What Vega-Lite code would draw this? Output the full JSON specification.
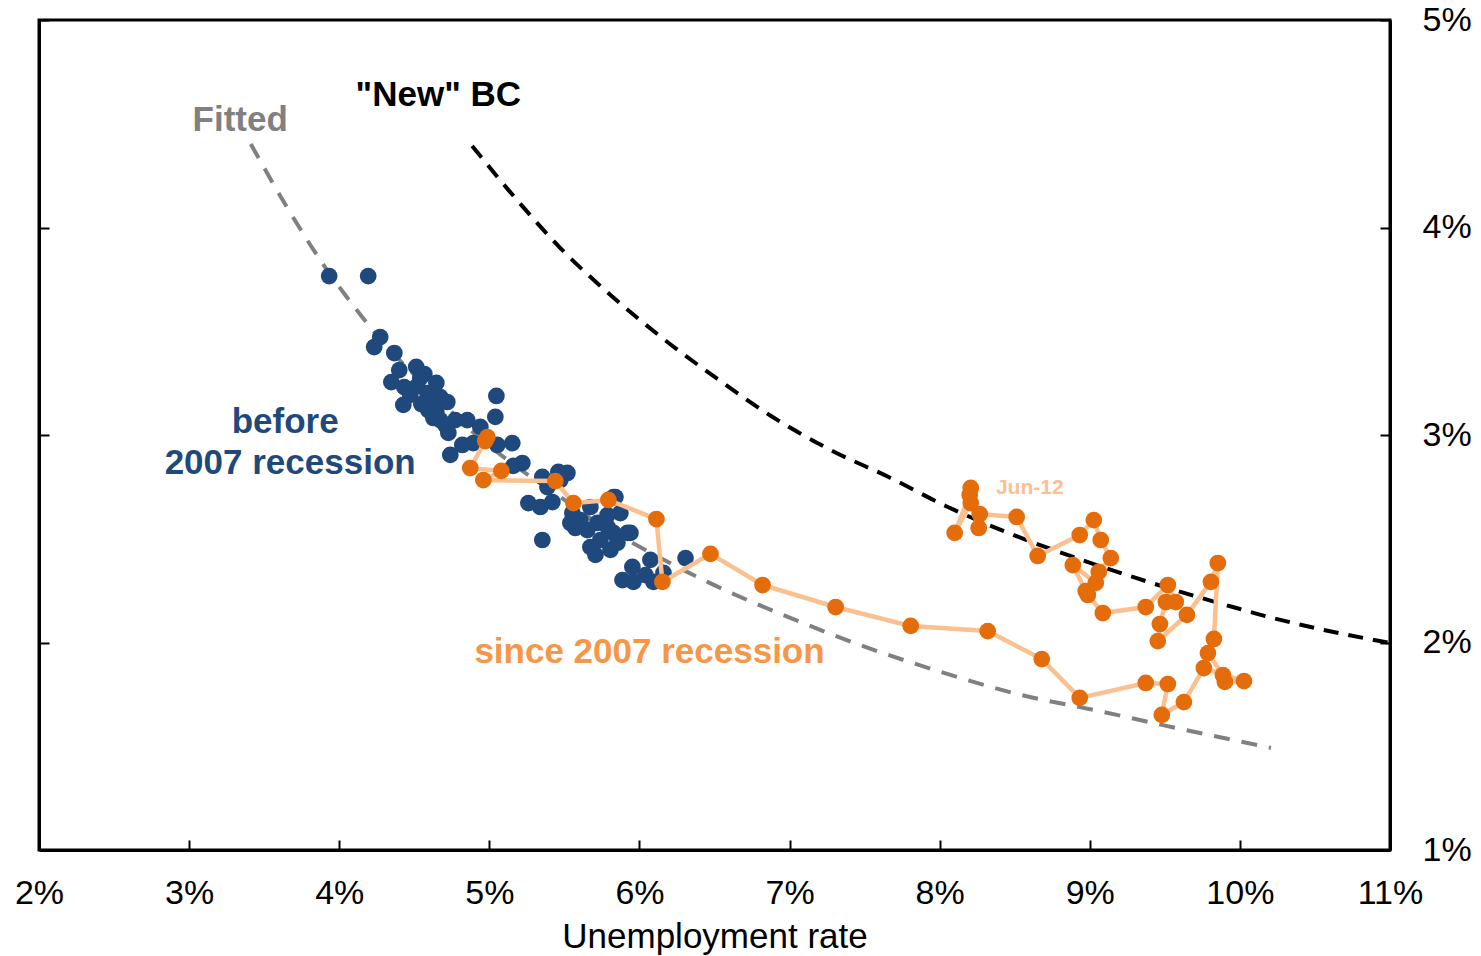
{
  "$schema": "https://vega.github.io/schema/vega-lite/v6.json",
  "width": 1351,
  "height": 830,
  "autosize": {"type": "none"},
  "padding": {"left": 39, "top": 20, "right": 91, "bottom": 106},
  "background": "white",
  "config": {
    "view": {"stroke": "black", "strokeWidth": 3},
    "font": "Liberation Sans",
    "axis": {
      "grid": false,
      "domainColor": "black",
      "domainWidth": 3,
      "tickColor": "black",
      "tickWidth": 2,
      "tickSize": -10,
      "labelFont": "Liberation Sans",
      "labelFontSize": 34,
      "labelColor": "black",
      "titleFont": "Liberation Sans",
      "titleFontSize": 35,
      "titleFontWeight": "normal",
      "titleColor": "black"
    }
  },
  "datasets": {
    "fitted": [
      {"x": 3.411, "y": 4.402}, {"x": 3.65, "y": 4.1}, {"x": 3.887, "y": 3.829}, {"x": 4.04, "y": 3.675},
      {"x": 4.307, "y": 3.434}, {"x": 4.6, "y": 3.22}, {"x": 4.85, "y": 3.04}, {"x": 5.12, "y": 2.88},
      {"x": 5.473, "y": 2.701}, {"x": 5.66, "y": 2.605}, {"x": 6.04, "y": 2.446}, {"x": 6.453, "y": 2.292},
      {"x": 7.0, "y": 2.12}, {"x": 7.5, "y": 1.98}, {"x": 8.0, "y": 1.86}, {"x": 8.5, "y": 1.755},
      {"x": 9.093, "y": 1.665}, {"x": 9.487, "y": 1.602}, {"x": 10.207, "y": 1.492}
    ],
    "newbc": [
      {"x": 4.885, "y": 4.393}, {"x": 5.173, "y": 4.142}, {"x": 5.473, "y": 3.901}, {"x": 5.807, "y": 3.675},
      {"x": 6.153, "y": 3.467}, {"x": 6.52, "y": 3.27}, {"x": 6.887, "y": 3.087}, {"x": 7.273, "y": 2.928},
      {"x": 7.673, "y": 2.793}, {"x": 8.04, "y": 2.658}, {"x": 8.44, "y": 2.533}, {"x": 8.87, "y": 2.417},
      {"x": 9.307, "y": 2.311}, {"x": 9.953, "y": 2.171}, {"x": 10.12, "y": 2.137}, {"x": 10.5, "y": 2.07},
      {"x": 11.0, "y": 1.998}
    ],
    "before": [
      {"x": 3.933, "y": 3.766}, {"x": 4.193, "y": 3.766}, {"x": 4.273, "y": 3.472}, {"x": 4.233, "y": 3.424},
      {"x": 4.367, "y": 3.395}, {"x": 4.4, "y": 3.313}, {"x": 4.513, "y": 3.328}, {"x": 4.567, "y": 3.294},
      {"x": 4.347, "y": 3.255}, {"x": 4.433, "y": 3.231}, {"x": 4.52, "y": 3.236}, {"x": 4.647, "y": 3.251},
      {"x": 4.587, "y": 3.202}, {"x": 4.427, "y": 3.145}, {"x": 4.673, "y": 3.183}, {"x": 4.72, "y": 3.159},
      {"x": 4.593, "y": 3.12}, {"x": 4.627, "y": 3.082}, {"x": 4.727, "y": 3.01}, {"x": 4.74, "y": 2.904},
      {"x": 4.853, "y": 3.072}, {"x": 4.94, "y": 3.039}, {"x": 5.047, "y": 3.188}, {"x": 5.04, "y": 3.087},
      {"x": 4.893, "y": 2.961}, {"x": 5.053, "y": 2.952}, {"x": 5.153, "y": 2.961}, {"x": 5.22, "y": 2.865},
      {"x": 5.353, "y": 2.798}, {"x": 5.26, "y": 2.672}, {"x": 5.46, "y": 2.822}, {"x": 5.52, "y": 2.817},
      {"x": 5.34, "y": 2.653}, {"x": 5.42, "y": 2.677}, {"x": 5.387, "y": 2.749}, {"x": 5.553, "y": 2.624},
      {"x": 5.54, "y": 2.576}, {"x": 5.673, "y": 2.653}, {"x": 5.84, "y": 2.701}, {"x": 5.873, "y": 2.624},
      {"x": 5.573, "y": 2.552}, {"x": 5.653, "y": 2.542}, {"x": 5.72, "y": 2.576}, {"x": 5.787, "y": 2.557},
      {"x": 5.94, "y": 2.528}, {"x": 5.353, "y": 2.494}, {"x": 5.673, "y": 2.46}, {"x": 5.807, "y": 2.446},
      {"x": 5.827, "y": 2.528}, {"x": 5.853, "y": 2.48}, {"x": 5.92, "y": 2.528}, {"x": 5.953, "y": 2.364},
      {"x": 6.073, "y": 2.398}, {"x": 6.307, "y": 2.407}, {"x": 5.887, "y": 2.301}, {"x": 5.96, "y": 2.292},
      {"x": 6.093, "y": 2.292}, {"x": 6.16, "y": 2.335}, {"x": 4.473, "y": 3.193}, {"x": 4.547, "y": 3.149},
      {"x": 4.647, "y": 3.111}, {"x": 4.773, "y": 3.072}, {"x": 4.673, "y": 3.072}, {"x": 4.82, "y": 2.952},
      {"x": 4.98, "y": 2.976}, {"x": 5.16, "y": 2.851}, {"x": 5.74, "y": 2.494}, {"x": 5.787, "y": 2.614},
      {"x": 5.607, "y": 2.59}, {"x": 6.04, "y": 2.325}, {"x": 4.54, "y": 3.275}, {"x": 4.607, "y": 3.169},
      {"x": 4.707, "y": 3.048}, {"x": 5.473, "y": 2.783}, {"x": 5.707, "y": 2.422}, {"x": 5.827, "y": 2.701}
    ],
    "since": [
      {"t": 1, "x": 4.987, "y": 2.99}, {"t": 2, "x": 4.973, "y": 2.971}, {"t": 3, "x": 4.873, "y": 2.841},
      {"t": 4, "x": 5.08, "y": 2.827}, {"t": 5, "x": 4.96, "y": 2.783}, {"t": 6, "x": 5.44, "y": 2.778},
      {"t": 7, "x": 5.56, "y": 2.672}, {"t": 8, "x": 5.793, "y": 2.687}, {"t": 9, "x": 6.113, "y": 2.595},
      {"t": 10, "x": 6.153, "y": 2.292}, {"t": 11, "x": 6.473, "y": 2.427}, {"t": 12, "x": 6.82, "y": 2.277},
      {"t": 13, "x": 7.307, "y": 2.171}, {"t": 14, "x": 7.807, "y": 2.08}, {"t": 15, "x": 8.32, "y": 2.055},
      {"t": 16, "x": 8.68, "y": 1.92}, {"t": 17, "x": 8.933, "y": 1.733}, {"t": 18, "x": 9.373, "y": 1.805},
      {"t": 19, "x": 9.52, "y": 1.8}, {"t": 20, "x": 9.48, "y": 1.651}, {"t": 21, "x": 9.627, "y": 1.713},
      {"t": 22, "x": 9.76, "y": 1.877}, {"t": 23, "x": 10.027, "y": 1.814}, {"t": 24, "x": 9.9, "y": 1.81},
      {"t": 25, "x": 9.887, "y": 1.843}, {"t": 26, "x": 9.787, "y": 1.949}, {"t": 27, "x": 9.827, "y": 2.017},
      {"t": 28, "x": 9.853, "y": 2.383}, {"t": 29, "x": 9.807, "y": 2.292}, {"t": 30, "x": 9.647, "y": 2.133},
      {"t": 31, "x": 9.453, "y": 2.007}, {"t": 32, "x": 9.467, "y": 2.089}, {"t": 33, "x": 9.507, "y": 2.195},
      {"t": 34, "x": 9.573, "y": 2.195}, {"t": 35, "x": 9.52, "y": 2.277}, {"t": 36, "x": 9.373, "y": 2.171},
      {"t": 37, "x": 9.087, "y": 2.142}, {"t": 38, "x": 8.987, "y": 2.229}, {"t": 39, "x": 8.973, "y": 2.248},
      {"t": 40, "x": 8.887, "y": 2.373}, {"t": 41, "x": 9.04, "y": 2.287}, {"t": 42, "x": 9.06, "y": 2.34},
      {"t": 43, "x": 9.14, "y": 2.407}, {"t": 44, "x": 9.073, "y": 2.494}, {"t": 45, "x": 9.027, "y": 2.59},
      {"t": 46, "x": 8.933, "y": 2.518}, {"t": 47, "x": 8.653, "y": 2.417}, {"t": 48, "x": 8.513, "y": 2.605},
      {"t": 49, "x": 8.267, "y": 2.619}, {"t": 50, "x": 8.26, "y": 2.552}, {"t": 51, "x": 8.207, "y": 2.672},
      {"t": 52, "x": 8.1, "y": 2.528}, {"t": 53, "x": 8.2, "y": 2.711}, {"t": 54, "x": 8.207, "y": 2.745}
    ],
    "labels": [
      {"x": 3.34, "y": 4.518, "label": "Fitted", "grp": "fitted"},
      {"x": 4.66, "y": 4.639, "label": "\"New\" BC", "grp": "newbc"},
      {"x": 3.64, "y": 3.063, "label": "before", "grp": "before"},
      {"x": 3.673, "y": 2.865, "label": "2007 recession", "grp": "before"},
      {"x": 6.067, "y": 1.954, "label": "since 2007 recession", "grp": "since"}
    ]
  },
  "resolve": {"axis": {"y": "independent"}},
  "encoding": {
    "x": {"field": "x", "type": "quantitative",
          "scale": {"domain": [2, 11], "nice": false, "zero": false},
          "axis": {"orient": "bottom", "values": [2, 3, 4, 5, 6, 7, 8, 9, 10, 11], "labelExpr": "datum.value + '%'", "title": "Unemployment rate", "labelPadding": 36, "titlePadding": 9, "labelFlush": false}},
    "y": {"field": "y", "type": "quantitative",
          "scale": {"domain": [1, 5], "nice": false, "zero": false},
          "axis": null}
  },
  "layer": [
    {
      "data": {"name": "fitted"},
      "mark": {"type": "line", "color": "#808080", "strokeWidth": 4, "strokeDash": [16, 12], "interpolate": "monotone"},
      "encoding": {
        "y": {"field": "y", "type": "quantitative",
              "scale": {"domain": [1, 5], "nice": false, "zero": false},
              "axis": {"orient": "right", "values": [1, 2, 3, 4, 5], "labelExpr": "datum.value + '%'", "title": null, "labelPadding": 42, "labelFlush": false}}
      }
    },
    {
      "data": {"name": "newbc"},
      "mark": {"type": "line", "color": "black", "strokeWidth": 4, "strokeDash": [15, 10], "interpolate": "monotone"},
      "encoding": {
        "y": {"field": "y", "type": "quantitative",
              "scale": {"domain": [1, 5], "nice": false, "zero": false},
              "axis": {"orient": "left", "values": [1, 2, 3, 4, 5], "labels": false, "title": null}}
      }
    },
    {
      "data": {"name": "before"},
      "mark": {"type": "circle", "color": "#1F497D", "opacity": 1, "size": 280}
    },
    {
      "data": {"name": "since"},
      "mark": {"type": "line", "color": "#FAC090", "strokeWidth": 4.5},
      "encoding": {
        "order": {"field": "t", "type": "quantitative"}
      }
    },
    {
      "data": {"name": "since"},
      "mark": {"type": "circle", "color": "#E46C0A", "opacity": 1, "size": 280}
    },
    {
      "data": {"name": "since"},
      "transform": [{"filter": "datum.t == 54"}],
      "mark": {"type": "text", "text": "Jun-12", "color": "#FAC090", "fontWeight": "bold", "fontSize": 21, "dx": 59, "align": "center", "baseline": "middle"}
    },
    {
      "data": {"name": "labels"},
      "mark": {"type": "text", "fontWeight": "bold", "fontSize": 35, "align": "center", "baseline": "middle"},
      "encoding": {
        "text": {"field": "label"},
        "color": {"field": "grp", "type": "nominal", "legend": null,
                  "scale": {"domain": ["fitted", "newbc", "before", "since"], "range": ["#808080", "#000000", "#1F497D", "#F79646"]}}
      }
    }
  ]
}
